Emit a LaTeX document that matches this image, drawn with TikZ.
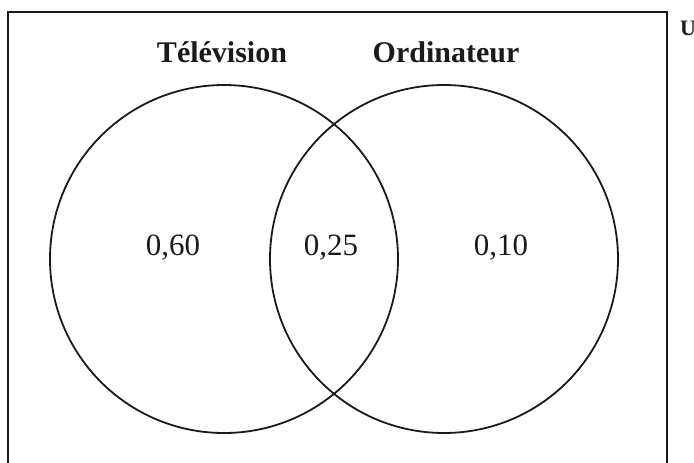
\documentclass[tikz,border=0pt]{standalone}
\usepackage{fontspec}
\setmainfont{Liberation Serif}
\usepackage{tikz}
\usetikzlibrary{positioning}
\definecolor{inkblack}{HTML}{1A1A1A}
\tikzset{
  setcircle/.style={draw=inkblack,line width=1.8pt,circle,minimum size=348pt,inner sep=0pt},
  settitle/.style={font=\fontsize{30}{36}\selectfont\bfseries,text=inkblack,inner sep=0pt},
  univlabel/.style={font=\fontsize{22}{26}\selectfont\bfseries,text=inkblack,inner sep=0pt},
  prob/.style={font=\fontsize{31}{37}\selectfont,text=inkblack,inner sep=0pt},
  universe/.style={draw=inkblack,line width=2pt}
}
\begin{document}
\begin{tikzpicture}[x=1pt,y=-1pt]
\useasboundingbox (0,0) rectangle (694,463);
\draw[universe] (8,12) rectangle (667,490);
\node[univlabel,anchor=north west] (univ) at (680,21) {U};
\node[setcircle] (tele) at (224,259) {};
\node[setcircle] (ordi) at (444,259) {};
\node[settitle] (teletitle) at (222,52) {Télévision};
\node[settitle] (ordititle) at (446,52) {Ordinateur};
\node[prob] (onlytele) at (173,248) {0,60};
\node[prob] (both) at (331,248) {0,25};
\node[prob] (onlyordi) at (501,248) {0,10};
\end{tikzpicture}
\end{document}
